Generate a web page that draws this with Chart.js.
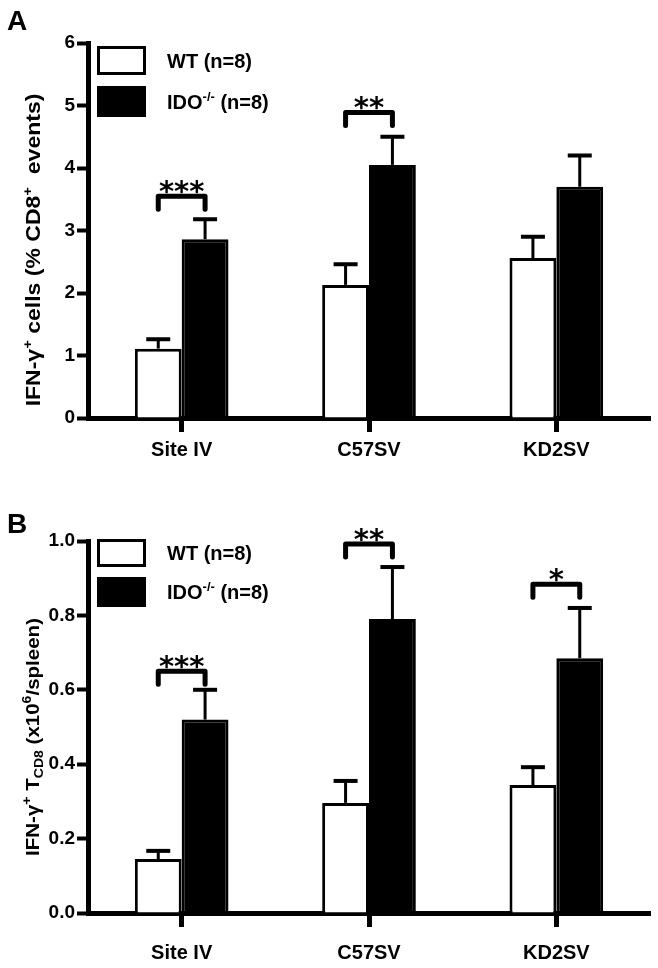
<!DOCTYPE html>
<html>
<head>
<meta charset="utf-8">
<script src="https://cdn.jsdelivr.net/npm/chart.js@4.4.0/dist/chart.umd.min.js"></script>
<style>
  html, body { margin: 0; padding: 0; background: #fff; }
  #wrap { position: relative; width: 658px; height: 968px; }
  .panel { position: absolute; left: 0; width: 658px; }
  #pa { top: 0; height: 475px; }
  #pb { top: 475px; height: 493px; }
</style>
</head>
<body>
<div id="wrap">
  <div class="panel" id="pa"><canvas id="chartA"></canvas></div>
  <div class="panel" id="pb"><canvas id="chartB"></canvas></div>
</div>
<script>
// data
const categories = ['Site IV', 'C57SV', 'KD2SV'];

// panel A: IFN-g+ cells (% CD8+ events)
const wtA = [1.11, 2.13, 2.56];
const wtErrA = [0.15, 0.33, 0.34];
const idoA = [2.86, 4.05, 3.70];
const idoErrA = [0.32, 0.45, 0.50];
const bracketA = [3.55, 4.89, null];
const starsA = ['***', '**', ''];
const ticksA = [0, 1, 2, 3, 4, 5, 6];

// panel B: IFN-g+ T CD8 (x10^6/spleen)
const wtB = [0.145, 0.296, 0.344];
const wtErrB = [0.022, 0.059, 0.048];
const idoB = [0.52, 0.79, 0.685];
const idoErrB = [0.08, 0.14, 0.135];
const bracketB = [0.65, 0.992, 0.884];
const starsB = ['***', '**', '*'];
const ticksB = [0, 0.2, 0.4, 0.6, 0.8, 1.0];

const FONT = "'Liberation Sans', Arial, Helvetica, sans-serif";

function runFont(r, size) {
  const s = (r.sup || r.sub) ? Math.round(size * 0.66) : size;
  return (r.normal ? '' : 'bold ') + s + 'px ' + FONT;
}

// draws a line of text with superscript/subscript parts, centred on x
function drawRuns(ctx, runs, x, y, size, align) {
  let w = 0;
  runs.forEach(r => { ctx.font = runFont(r, size); w += ctx.measureText(r.t).width; });
  let cx = align === 'left' ? x : x - w / 2;
  ctx.textAlign = 'left';
  ctx.textBaseline = 'alphabetic';
  runs.forEach(r => {
    ctx.font = runFont(r, size);
    const dy = r.sup ? -size * 0.4 : (r.sub ? size * 0.22 : 0);
    ctx.fillText(r.t, cx, y + dy);
    cx += ctx.measureText(r.t).width;
  });
}

const figurePlugin = {
  id: 'figure',
  afterDatasetsDraw(chart, args, opts) {
    const ctx = chart.ctx;
    const y = chart.scales.y;
    ctx.save();
    ctx.strokeStyle = '#000';
    ctx.fillStyle = '#000';

    // error bars (upper only)
    chart.data.datasets.forEach((ds, di) => {
      const meta = chart.getDatasetMeta(di);
      meta.data.forEach((bar, i) => {
        const top = y.getPixelForValue(ds.data[i] + opts.errors[di][i]);
        ctx.lineWidth = 3;
        ctx.lineCap = 'butt';
        ctx.beginPath();
        ctx.moveTo(bar.x, bar.y);
        ctx.lineTo(bar.x, top);
        ctx.stroke();
        ctx.lineWidth = 4;
        ctx.beginPath();
        ctx.moveTo(bar.x - 12, top);
        ctx.lineTo(bar.x + 12, top);
        ctx.stroke();
      });
    });

    // significance brackets
    const m0 = chart.getDatasetMeta(0), m1 = chart.getDatasetMeta(1);
    opts.brackets.forEach((v, i) => {
      if (v == null) return;
      const by = y.getPixelForValue(v);
      const x1 = m0.data[i].x, x2 = m1.data[i].x;
      ctx.lineWidth = 5;
      ctx.lineCap = 'round';
      ctx.lineJoin = 'round';
      ctx.beginPath();
      ctx.moveTo(x1, by + 13);
      ctx.lineTo(x1, by);
      ctx.lineTo(x2, by);
      ctx.lineTo(x2, by + 13);
      ctx.stroke();
      ctx.font = "bold 29px 'DejaVu Sans', sans-serif";
      ctx.textAlign = 'center';
      ctx.textBaseline = 'alphabetic';
      ctx.fillText(opts.stars[i], (x1 + x2) / 2, by + 5);
    });
    ctx.restore();
  },
  afterDraw(chart, args, opts) {
    const ctx = chart.ctx;
    const area = chart.chartArea;
    ctx.save();
    ctx.fillStyle = '#000';
    ctx.strokeStyle = '#000';

    // legend
    const bx = area.left + 9, bw = 49;
    ctx.lineWidth = 3;
    ctx.strokeRect(bx + 1.5, area.top + opts.legend[0] + 1.5, bw - 3, opts.legend[1] - 3);
    ctx.fillRect(bx, area.top + opts.legend[2], bw, opts.legend[3]);
    drawRuns(ctx, [{ t: 'WT (n=8)' }], area.left + 79, area.top + opts.legend[0] + opts.legend[1] / 2 + 7, 20, 'left');
    drawRuns(ctx, [{ t: 'IDO' }, { t: '-/-', sup: true }, { t: ' (n=8)' }],
      area.left + 79, area.top + opts.legend[2] + opts.legend[3] / 2 + 7, 20, 'left');

    // y axis title
    ctx.save();
    ctx.translate(opts.titleX, opts.titleY);
    ctx.rotate(-Math.PI / 2);
    ctx.scale(opts.titleStretch, 1);
    drawRuns(ctx, opts.title, 0, 7, opts.titleSize);
    ctx.restore();

    // panel letter
    ctx.font = 'bold 28px ' + FONT;
    ctx.textAlign = 'left';
    ctx.textBaseline = 'alphabetic';
    ctx.fillText(opts.letter, 7, opts.letterY);
    ctx.restore();
  }
};

function makeChart(id, wt, ido, cfg) {
  return new Chart(document.getElementById(id), {
    type: 'bar',
    data: {
      labels: categories,
      datasets: [
        { label: 'WT (n=8)', data: wt, backgroundColor: '#fff', borderColor: '#000', borderWidth: 3 },
        { label: 'IDO-/- (n=8)', data: ido, backgroundColor: '#000', borderColor: '#000', borderWidth: 3 }
      ]
    },
    options: {
      responsive: true,
      maintainAspectRatio: false,
      animation: false,
      events: [],
      categoryPercentage: 0.5,
      barPercentage: 1.0,
      layout: { padding: { left: 0, right: 8, top: cfg.top, bottom: 0 } },
      scales: {
        x: {
          offset: true,
          grid: { display: true, offset: false, drawOnChartArea: false, drawTicks: true,
                  tickLength: 14, tickWidth: 5, tickColor: '#000' },
          border: { display: true, width: 5, color: '#000' },
          ticks: { color: '#000', padding: cfg.xpad, font: { family: FONT, size: 20, weight: 'bold' } },
          afterFit: s => { s.height = cfg.xh; }
        },
        y: {
          min: 0,
          max: cfg.max,
          afterBuildTicks: s => { s.ticks = cfg.ticks.map(v => ({ value: v })); },
          grid: { display: true, drawOnChartArea: false, drawTicks: true,
                  tickLength: 11, tickWidth: 4, tickColor: '#000' },
          border: { display: true, width: 5, color: '#000' },
          ticks: { color: '#000', padding: 2, font: { family: FONT, size: 19, weight: 'bold' },
                   callback: v => cfg.fmt(v) },
          afterFit: s => { s.width = 88; }
        }
      },
      plugins: {
        legend: { display: false },
        tooltip: { enabled: false },
        figure: cfg.fig
      }
    },
    plugins: [figurePlugin]
  });
}

makeChart('chartA', wtA, idoA, {
  top: 43, xh: 57, xpad: 6, max: 6, ticks: ticksA, fmt: v => String(v),
  fig: {
    errors: [wtErrA, idoErrA], brackets: bracketA, stars: starsA,
    legend: [3, 29, 43, 31],
    title: [{ t: 'IFN-γ' }, { t: '+', sup: true }, { t: ' cells (% CD8' }, { t: '+', sup: true }, { t: '  events)' }],
    titleSize: 20, titleStretch: 1.15,
    titleX: 33, titleY: 250, letter: 'A', letterY: 30
  }
});

makeChart('chartB', wtB, idoB, {
  top: 66, xh: 55, xpad: 14, max: 1.0, ticks: ticksB, fmt: v => v.toFixed(1),
  fig: {
    errors: [wtErrB, idoErrB], brackets: bracketB, stars: starsB,
    legend: [-2, 28, 36, 30],
    title: [{ t: 'IFN-γ' }, { t: '+', sup: true }, { t: ' T' }, { t: 'CD8', sub: true }, { t: ' (x10' }, { t: '6', sup: true }, { t: '/spleen)' }],
    titleSize: 19, titleStretch: 1.08,
    titleX: 32, titleY: 262, letter: 'B', letterY: 58
  }
});
</script>
</body>
</html>
